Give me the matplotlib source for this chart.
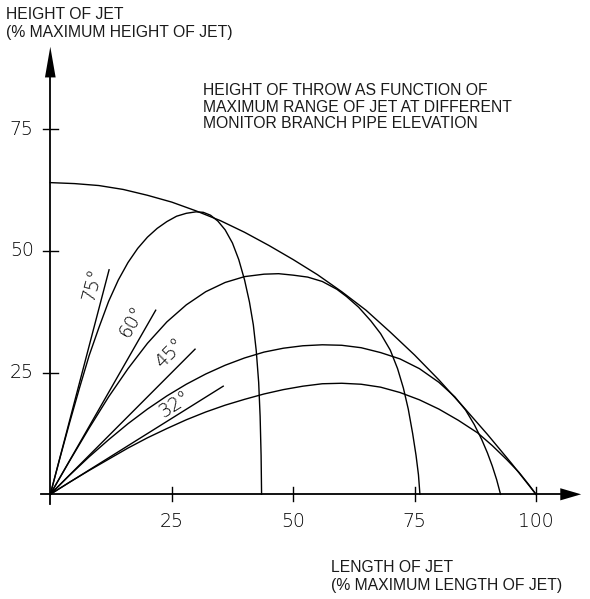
import matplotlib
matplotlib.use("Agg")
import matplotlib.pyplot as plt

# ---------------- data ----------------
xticks = [25, 50, 75, 100]
yticks = [25, 50, 75]

# envelope (maximum height curve)
env_x = [0, 5, 10, 15, 20, 25, 30, 35, 40, 45, 50, 55, 60, 65, 70, 75, 80, 85, 90, 95, 100]
env_y = [64, 63.8, 63.4, 62.6, 61.4, 60.0, 58.2, 56.2, 53.8, 51.1, 48.2, 45.1, 41.6, 37.8,
         33.3, 28.6, 23.5, 18.0, 12.3, 6.3, 0]

# trajectories at different elevations
t75_x = [0, 2, 4, 6, 8, 10, 12, 14, 16, 18, 20, 22, 24, 26, 28, 30, 31.5, 33, 34.5, 36,
         37.5, 38.8, 40, 41, 41.8, 42.4, 42.9, 43.2, 43.4, 43.5]
t75_y = [0, 7.5, 14.8, 21.8, 28.5, 34.2, 39.6, 44, 47.6, 50.5, 52.8, 54.6, 56, 57.1, 57.7,
         58.0, 57.9, 57.3, 56.1, 54.3, 51.6, 48.2, 44, 39.5, 34.8, 29.5, 23, 16, 8, 0]

t60_x = [0, 4, 8, 12, 16, 20, 24, 28, 32, 36, 40, 44, 47, 50, 53, 56, 59, 61, 63.5, 66,
         68, 70, 71.5, 72.7, 73.7, 74.6, 75.3, 75.8, 76.1]
t60_y = [0, 6.9, 13.6, 20, 25.8, 31, 35.4, 38.9, 41.6, 43.5, 44.7, 45.2, 45.3, 45.0, 44.6,
         43.7, 42.1, 40.6, 38.4, 35.6, 33.0, 29.6, 25.8, 21.8, 17.5, 12.5, 8, 4, 0]

t45_x = [0, 4, 8, 12, 16, 20, 24, 28, 32, 36, 40, 44, 48, 52, 56, 60, 64, 68, 72, 76, 80,
         83.3, 85.5, 87.3, 88.8, 90, 91, 91.9, 92.7]
t45_y = [0, 3.95, 7.7, 11.2, 14.5, 17.5, 20.2, 22.6, 24.7, 26.5, 28, 29.2, 30.0, 30.5, 30.7,
         30.6, 30.1, 29.1, 27.8, 25.8, 23, 20.0, 17.3, 14.3, 11.3, 8.5, 5.8, 3, 0]

t32_x = [0, 4, 8, 12, 16, 20, 24, 28, 32, 36, 40, 44, 48, 52, 56, 60, 64, 68, 72, 76, 80,
         84, 88, 91, 94, 96.5, 98.5, 100]
t32_y = [0, 2.5, 4.9, 7.2, 9.5, 11.6, 13.5, 15.3, 16.9, 18.3, 19.5, 20.6, 21.5, 22.2, 22.7,
         22.8, 22.6, 22, 20.9, 19.4, 17.5, 15.2, 12.6, 10, 7.1, 4.5, 2, 0]

# tangent lines at launch
angles = [75, 60, 45, 32]
tan_end_x = [12.1, 21.7, 29.8, 35.6]
tan_end_y = [46.1, 37.8, 29.8, 22.2]
angle_labels = ["75°", "60°", "45°", "32°"]
label_x = [8.6, 16.8, 24.6, 25.7]
label_y = [43.0, 35.4, 29.0, 18.5]

title_lines = ["HEIGHT OF THROW AS FUNCTION OF",
               "MAXIMUM RANGE OF JET AT DIFFERENT",
               "MONITOR BRANCH PIPE ELEVATION"]
ylabel_lines = ["HEIGHT OF JET", "(% MAXIMUM HEIGHT OF JET)"]
xlabel_lines = ["LENGTH OF JET", "(% MAXIMUM LENGTH OF JET)"]

# ---------------- figure ----------------
W, H = 590, 599
fig = plt.figure(figsize=(W / 100, H / 100), dpi=100)
ax = fig.add_axes([0, 0, 1, 1])
X0, SX = 50.3, 4.857   # px of origin, px per unit (x)
Y0, SY = 494.3, 4.87   # px of origin, px per unit (y)
ax.set_xlim((0 - X0) / SX, (W - X0) / SX)
ax.set_ylim((Y0 - H) / SY, (Y0 - 0) / SY)
ax.axis("off")

lw_c = 1.0
k = "black"
for xs, ys in [(env_x, env_y), (t75_x, t75_y), (t60_x, t60_y), (t45_x, t45_y), (t32_x, t32_y)]:
    ax.plot(xs, ys, color=k, lw=lw_c, solid_joinstyle="round")

for ex, ey in zip(tan_end_x, tan_end_y):
    ax.plot([0, ex], [0, ey], color=k, lw=lw_c)

digit_font = dict(family=["DejaVu Sans"], fontweight="light", fontsize=13.5)
for lab, lx, ly, a in zip(angle_labels, label_x, label_y, angles):
    ax.text(lx, ly, lab, rotation=a, rotation_mode="anchor", ha="center", va="center",
            **digit_font)

# axes with arrows
ax.plot([-2, 105], [0, 0], color=k, lw=1.3)
ax.fill([105.0, 109.3, 105.0], [-1.25, 0, 1.25], color=k, lw=0)
ax.plot([0, 0], [-2, 86], color=k, lw=1.3)
ax.fill([-1.1, 0, 1.1], [85.6, 91.9, 85.6], color=k, lw=0)

for t in xticks:
    ax.plot([t, t], [-1.4, 1.4], color=k, lw=1.0)
    ax.text(t, -5.6, str(t), ha="center", va="center", **digit_font)
for t in yticks:
    ax.plot([-1.6, 1.6], [t, t], color=k, lw=1.0)
    ax.text(-3.4, t, str(t), ha="right", va="center", **digit_font)

sans = dict(family=["Liberation Sans"], fontsize=11.3, color="#1a1a1a")

def px_text(px, py, s, **kw):
    ax.text((px - X0) / SX, (Y0 - py) / SY, s, ha="left", va="baseline", **kw)

for i, s in enumerate(ylabel_lines):
    px_text(6.5, [19.0, 37.3][i], s, **sans)
for i, s in enumerate(title_lines):
    px_text(203, [95.3, 111.7, 128.3][i], s, **sans)
for i, s in enumerate(xlabel_lines):
    px_text(331, [572.3, 590.0][i], s, **sans)

fig.savefig("out.png", dpi=100)
